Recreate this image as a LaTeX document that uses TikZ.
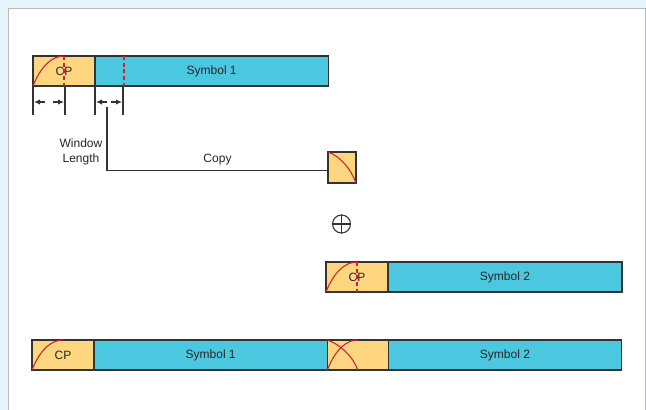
\documentclass[tikz,border=0pt]{standalone}
\usepackage{fontspec}
\setmainfont{Liberation Sans}
\usetikzlibrary{positioning, arrows.meta}

\definecolor{cpfill}{HTML}{FED680}
\definecolor{symfill}{HTML}{4BC7E0}
\definecolor{cpred}{HTML}{CC2233}
\definecolor{frame}{HTML}{333333}
\definecolor{bgblue}{HTML}{E6F5FC}
\definecolor{panel}{HTML}{B4BBC2}

\begin{document}
\begin{tikzpicture}[x=0.75pt, y=-0.75pt, node distance=0pt,
  every node/.style={font=\fontsize{9}{11.5}\selectfont, text=black!85},
  box/.style={draw=frame, line width=1.1pt, inner sep=0pt, outer sep=0pt, minimum height=22.5pt},
  cpbox/.style={box, fill=cpfill, minimum width=46.5pt},
  symbox/.style={box, fill=symfill, minimum width=175pt},
  cpcurve/.style={draw=cpred, line width=0.8pt},
  marker/.style={draw=cpred, line width=0.8pt, dash pattern=on 3pt off 2pt},
  dim/.style={-{Latex[length=4.5pt, width=4pt]}, line width=0.8pt, frame},
  rule/.style={frame, line width=0.8pt}]
  \useasboundingbox (0,0) rectangle (646,410);
  \fill[bgblue] (0,0) rectangle (646,410);
  \draw[panel, fill=white, line width=0.75pt] (8,9) rectangle (645,416);

  % first symbol with its cyclic prefix
  \node[cpbox, anchor=north west] (cp1) at (33,56) {CP};
  \node[symbox, right=of cp1] (sym1) {Symbol 1};
  \draw[cpcurve] (cp1.south west) .. controls +(8,-20) and +(-12,0) .. (cp1.north);
  \draw[marker] (cp1.north) -- (cp1.south);
  \draw[marker] (sym1.north west) ++(29,0) -- ++(0,30);

  % window length marks
  \foreach \x in {33,65,95,123}
    \draw[rule] (\x,86) -- (\x,115);
  \foreach \a/\b in {33/65,95/123} {
    \draw[dim] (\a+12,102) -- (\a+1,102);
    \draw[dim] (\b-12,102) -- (\b-1,102);
  }
  \node[align=center] (wlabel) at (81,152) {Window\\Length};

  % copied window
  \node[cpbox, minimum width=21pt, minimum height=23.25pt, anchor=north west] (copy) at (328,152) {};
  \draw[cpcurve] (copy.north west) .. controls +(12,4) and +(-5,-14) .. (copy.south east);
  \coordinate (wl) at (107,107);
  \draw[rule] (wl) |- ([yshift=-2pt]copy.west) node[pos=0.75, above=0pt] (clabel) {Copy};

  \node[draw=frame, circle, line width=0.8pt, inner sep=0pt, minimum size=13.5pt] (plus) at (341.5,224) {};
  \draw[rule] (plus.north) -- (plus.south) (plus.west) -- (plus.east);

  % second symbol with its cyclic prefix
  \node[cpbox, anchor=north west] (cp2) at (326,262) {CP};
  \node[symbox, minimum width=175.5pt, right=of cp2] (sym2) {Symbol 2};
  \draw[cpcurve] (cp2.south west) .. controls +(8,-20) and +(-12,0) .. (cp2.north);
  \draw[marker] (cp2.north) -- (cp2.south);

  % resulting stream
  \node[cpbox, anchor=north west] (cp3) at (32,340) {CP};
  \node[symbox, right=of cp3] (sym3) {Symbol 1};
  \node[cpbox, minimum width=45.75pt, right=of sym3] (ov) {};
  \node[symbox, right=of ov] (sym4) {Symbol 2};
  \draw[cpcurve] (cp3.south west) .. controls +(8,-20) and +(-12,0) .. (cp3.north);
  \draw[cpcurve] (ov.south west) .. controls +(8,-20) and +(-12,0) .. (ov.north);
  \draw[cpcurve] (ov.north west) .. controls +(12,4) and +(-5,-14) .. (ov.south);
\end{tikzpicture}
\end{document}
